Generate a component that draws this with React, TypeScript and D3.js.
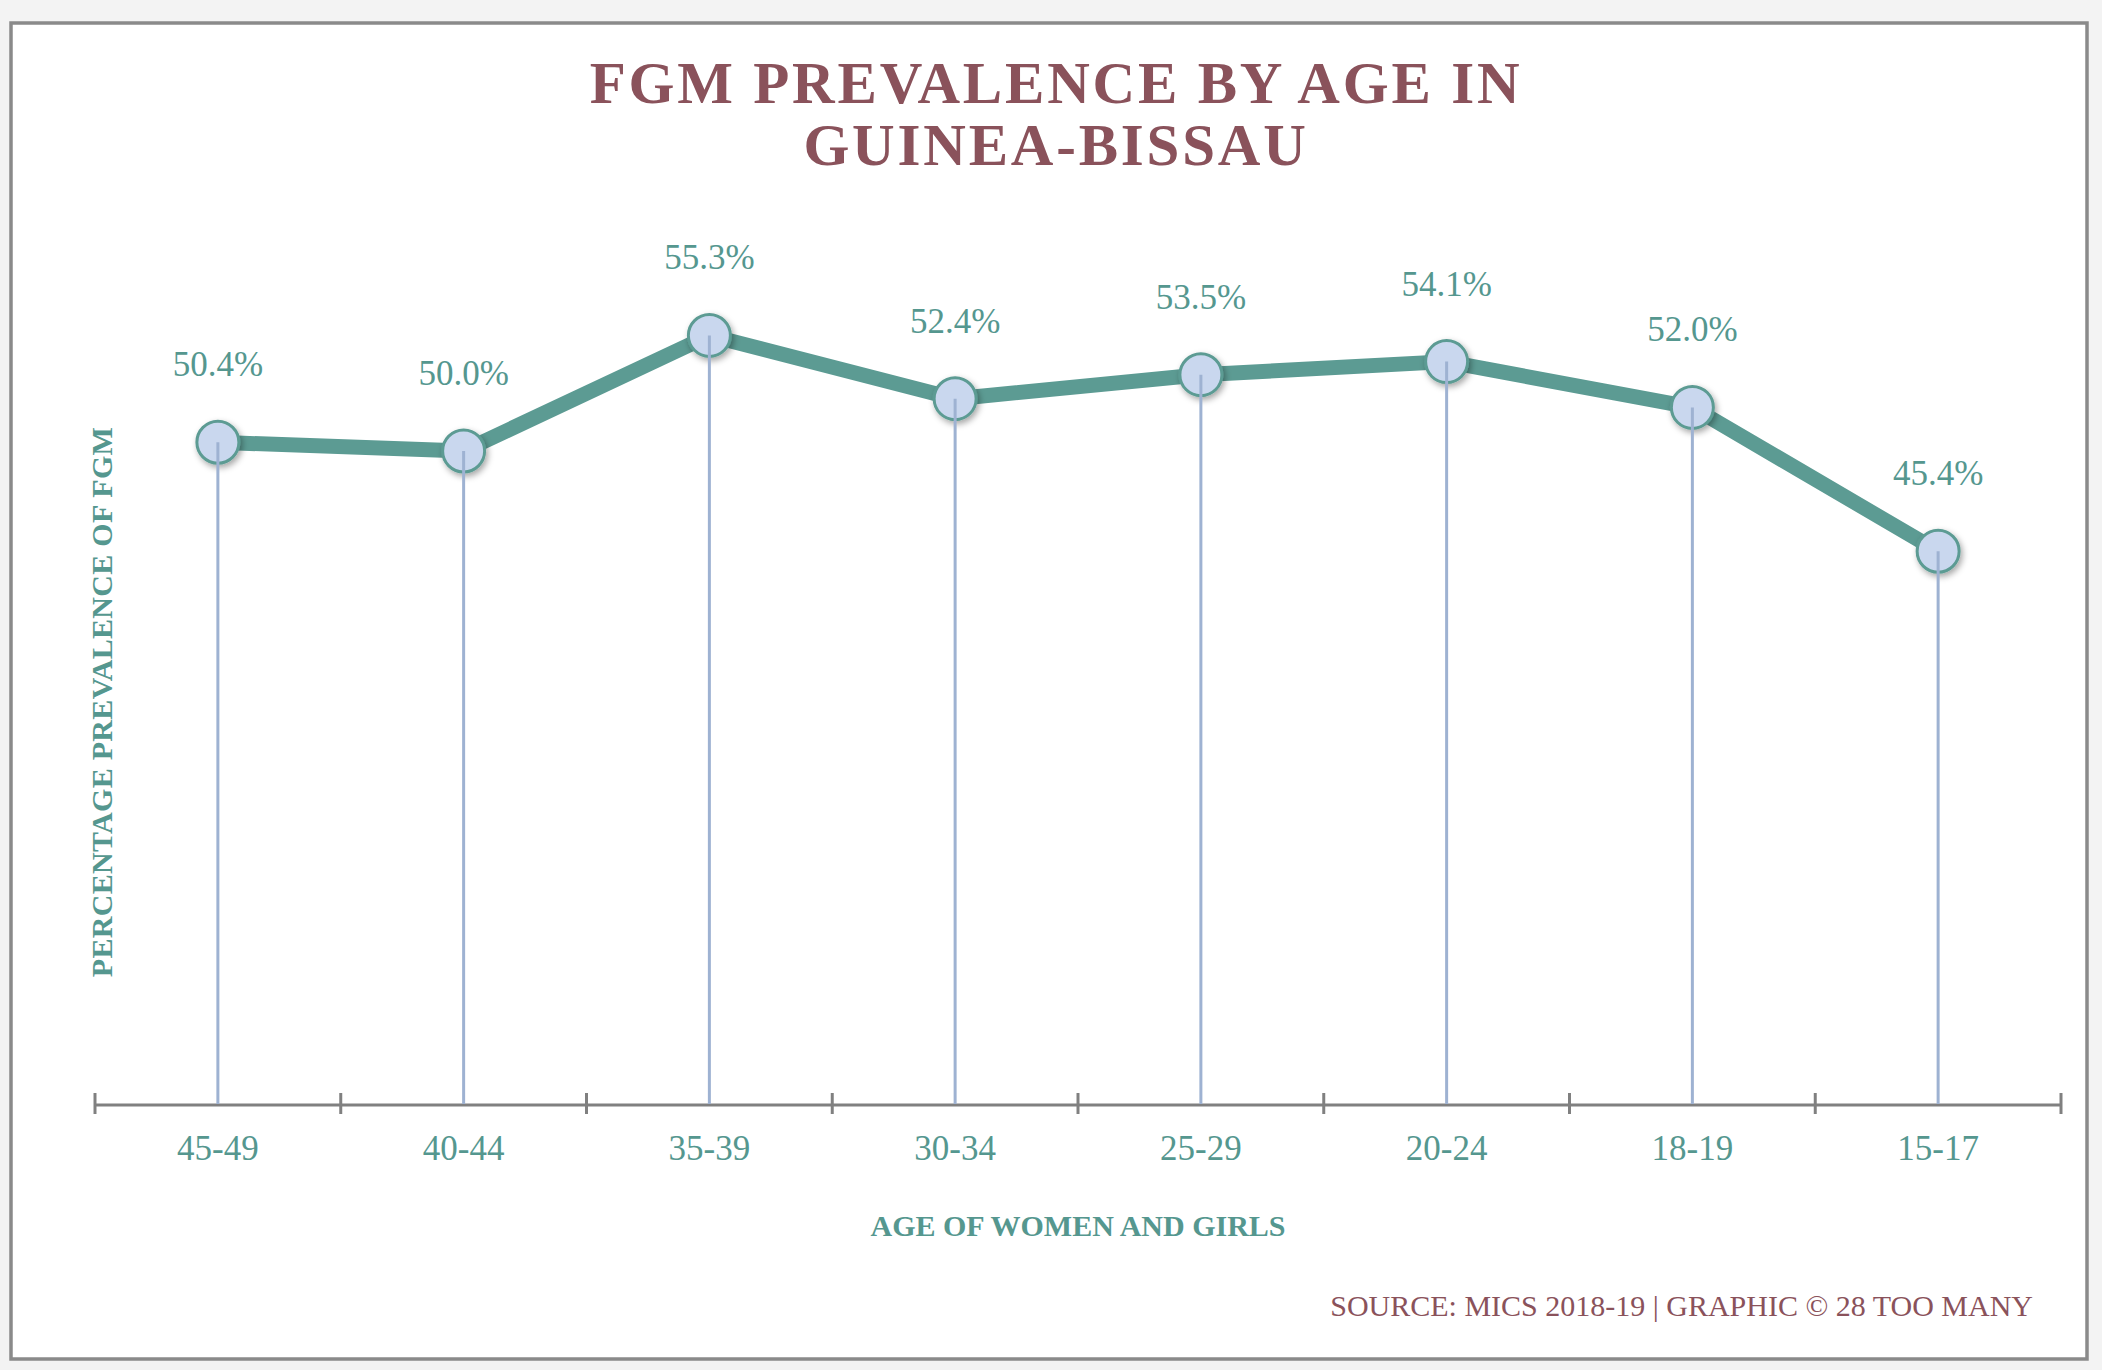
import { useRef, useEffect } from "react";
import * as d3 from "d3";

const AGE_GROUPS = ["45-49", "40-44", "35-39", "30-34", "25-29", "20-24", "18-19", "15-17"];
const PREVALENCE = [50.4, 50.0, 55.3, 52.4, 53.5, 54.1, 52.0, 45.4];
const TITLE_LINES = ["FGM PREVALENCE BY AGE IN", "GUINEA-BISSAU"];
const Y_DOMAIN = [20, 60];

const WIDTH = 2102;
const HEIGHT = 1370;
const FONT = "'Liberation Serif', 'Times New Roman', serif";

const TEAL = "#5c9b93";
const TEAL_TEXT = "#55978f";
const MAROON = "#8a525b";
const MARKER_FILL = "#c9d7ee";
const DROP = "#9eb2d2";
const AXIS = "#808080";

export default function App() {
  const svgRef = useRef<SVGSVGElement>(null);

  useEffect(() => {
    if (!svgRef.current) return;
    const svg = d3.select(svgRef.current);
    svg.selectAll("*").remove();

    const plot = { left: 95, right: 2061, top: 233, bottom: 1105 };

    const x = d3
      .scaleBand<string>()
      .domain(AGE_GROUPS)
      .range([plot.left, plot.right])
      .padding(0);

    const y = d3.scaleLinear().domain(Y_DOMAIN).range([plot.bottom, plot.top]);

    const cx = (d: string) => (x(d) ?? 0) + x.bandwidth() / 2;

    const defs = svg.append("defs");
    const shadow = defs
      .append("filter")
      .attr("id", "mshadow")
      .attr("x", "-50%")
      .attr("y", "-50%")
      .attr("width", "200%")
      .attr("height", "200%");
    shadow
      .append("feDropShadow")
      .attr("dx", 2)
      .attr("dy", 3)
      .attr("stdDeviation", 3)
      .attr("flood-color", "#000")
      .attr("flood-opacity", 0.35);

    // page + frame
    svg.append("rect").attr("width", WIDTH).attr("height", HEIGHT).attr("fill", "#f3f3f3");
    svg
      .append("rect")
      .attr("x", 11)
      .attr("y", 23)
      .attr("width", 2076)
      .attr("height", 1336)
      .attr("fill", "#fff")
      .attr("stroke", "#8a8a8a")
      .attr("stroke-width", 3.5);

    // title
    const title = svg
      .append("text")
      .attr("text-anchor", "middle")
      .attr("fill", MAROON)
      .attr("font-family", FONT)
      .attr("font-weight", "bold")
      .attr("font-size", 59)
      .attr("letter-spacing", 2.8);
    TITLE_LINES.forEach((line, i) => {
      title
        .append("tspan")
        .attr("x", 1056)
        .attr("y", 103 + i * 62)
        .text(line);
    });

    // x axis
    const g = svg.append("g");
    g.append("line")
      .attr("x1", plot.left)
      .attr("x2", plot.right)
      .attr("y1", plot.bottom)
      .attr("y2", plot.bottom)
      .attr("stroke", AXIS)
      .attr("stroke-width", 3);

    const bounds = AGE_GROUPS.map((d) => x(d) ?? 0).concat([plot.right]);
    g.selectAll(".tick")
      .data(bounds)
      .enter()
      .append("line")
      .attr("x1", (d) => d)
      .attr("x2", (d) => d)
      .attr("y1", plot.bottom - 12)
      .attr("y2", plot.bottom + 9)
      .attr("stroke", AXIS)
      .attr("stroke-width", 3);

    g.selectAll(".xlab")
      .data(AGE_GROUPS)
      .enter()
      .append("text")
      .attr("x", (d) => cx(d))
      .attr("y", 1160)
      .attr("text-anchor", "middle")
      .attr("fill", TEAL_TEXT)
      .attr("font-family", FONT)
      .attr("font-size", 35)
      .text((d) => d);

    // axis titles
    svg
      .append("text")
      .attr("x", 1078)
      .attr("y", 1236)
      .attr("text-anchor", "middle")
      .attr("fill", TEAL_TEXT)
      .attr("font-family", FONT)
      .attr("font-weight", "bold")
      .attr("font-size", 30)
      .text("AGE OF WOMEN AND GIRLS");

    svg
      .append("text")
      .attr("transform", `translate(112,702) rotate(-90)`)
      .attr("text-anchor", "middle")
      .attr("fill", TEAL_TEXT)
      .attr("font-family", FONT)
      .attr("font-weight", "bold")
      .attr("font-size", 30)
      .attr("letter-spacing", 0.3)
      .text("PERCENTAGE PREVALENCE OF FGM");

    // source
    svg
      .append("text")
      .attr("x", 2033)
      .attr("y", 1316)
      .attr("text-anchor", "end")
      .attr("fill", MAROON)
      .attr("font-family", FONT)
      .attr("font-size", 30)
      .text("SOURCE: MICS 2018-19 | GRAPHIC \u00a9 28 TOO MANY");

    const pts = AGE_GROUPS.map((d, i) => ({ cat: d, v: PREVALENCE[i] }));

    // series line
    const line = d3
      .line<{ cat: string; v: number }>()
      .x((d) => cx(d.cat))
      .y((d) => y(d.v));

    svg
      .append("path")
      .datum(pts)
      .attr("d", line)
      .attr("fill", "none")
      .attr("stroke", TEAL)
      .attr("stroke-width", 15)
      .attr("stroke-linejoin", "round");

    // markers
    svg
      .selectAll(".marker")
      .data(pts)
      .enter()
      .append("circle")
      .attr("cx", (d) => cx(d.cat))
      .attr("cy", (d) => y(d.v))
      .attr("r", 21)
      .attr("fill", MARKER_FILL)
      .attr("stroke", TEAL)
      .attr("stroke-width", 3)
      .attr("filter", "url(#mshadow)");

    // drop lines
    svg
      .selectAll(".drop")
      .data(pts)
      .enter()
      .append("line")
      .attr("x1", (d) => cx(d.cat))
      .attr("x2", (d) => cx(d.cat))
      .attr("y1", (d) => y(d.v))
      .attr("y2", plot.bottom - 1)
      .attr("stroke", DROP)
      .attr("stroke-width", 3);

    // data labels
    svg
      .selectAll(".dlab")
      .data(pts)
      .enter()
      .append("text")
      .attr("x", (d) => cx(d.cat))
      .attr("y", (d) => y(d.v) - 66)
      .attr("text-anchor", "middle")
      .attr("fill", TEAL_TEXT)
      .attr("font-family", FONT)
      .attr("font-size", 35)
      .text((d) => `${d.v.toFixed(1)}%`);
  }, []);

  return (
    <svg
      ref={svgRef}
      width={WIDTH}
      height={HEIGHT}
      style={{ position: "absolute", left: 0, top: 0, display: "block" }}
    />
  );
}
